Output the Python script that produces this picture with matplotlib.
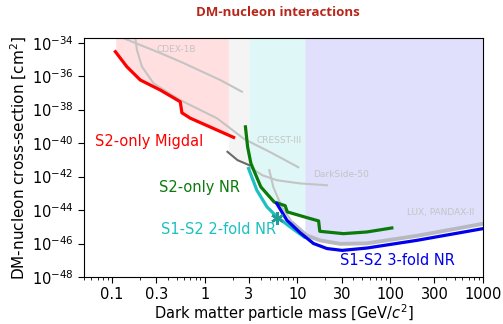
import numpy as np
import matplotlib
matplotlib.use("Agg")
import matplotlib.pyplot as plt
from matplotlib.ticker import LogLocator, FixedLocator, NullFormatter

# Projected limits (mass in GeV/c^2, log10 of cross-section in cm^2)
migdal_mass = [0.109, 0.145, 0.202, 0.332, 0.545, 0.568, 0.698, 2.05]
migdal_logs = [-34.54, -35.44, -36.23, -36.83, -37.53, -38.19, -38.51, -39.66]

s2_nr_mass = [2.75, 2.90, 3.15, 4.03, 5.61, 7.37, 7.76, 12.6, 16.9, 17.4, 31.3, 56.0, 104.0]
s2_nr_logs = [-39.03, -40.22, -41.22, -42.62, -43.52, -43.74, -44.11, -44.45, -44.65,
              -45.27, -45.41, -45.31, -45.07]

twofold_mass = [2.97, 3.65, 4.69, 6.01, 8.36, 11.8]
twofold_logs = [-41.52, -42.82, -43.81, -44.41, -45.01, -45.61]

threefold_mass = [5.98, 7.70, 10.7, 14.9, 20.8, 30.3, 56.0, 194.0, 1000.0]
threefold_logs = [-43.61, -44.61, -45.36, -46.00, -46.30, -46.41, -46.27, -45.81, -45.11]

# Benchmark point on the 2-fold curve
bench_mass = [6.0]
bench_logs = [-44.45]

# Existing experimental limits
cdex_a_mass = [0.134, 0.332, 0.587, 1.47, 2.52]
cdex_a_logs = [-33.74, -34.62, -35.21, -36.23, -36.93]

cdex_b_mass = [0.179, 0.186, 0.211, 0.281, 0.545, 1.36, 2.67, 5.08, 10.2]
cdex_b_logs = [-33.74, -34.44, -35.44, -36.43, -37.43, -38.52, -39.76, -40.54, -41.44]

cresst_mass = [1.76, 2.26, 3.02]
cresst_logs = [-40.52, -41.02, -41.32]

darkside_mass = [3.09, 4.17, 6.0, 10.7, 20.8]
darkside_logs = [-41.44, -41.92, -42.22, -42.41, -42.52]

lux_mass = [4.97, 5.49, 6.77, 9.0, 12.5, 17.4, 28.8, 56.0, 194.0, 1000.0]
lux_logs = [-41.62, -42.62, -43.81, -44.81, -45.51, -45.81, -46.02, -45.99, -45.54, -44.82]

# Mass bands of the excluded region and the curve each one sits on
band_edges = [0.11, 1.8, 3.0, 12.0, 1000.0]
band_colors = ["#ffdfdf", "#f4f4f4", "#e0f7f7", "#e0e0fc"]

xticks = [0.1, 0.3, 1, 3, 10, 30, 100, 300, 1000]
xtick_labels = ["0.1", "0.3", "1", "3", "10", "30", "100", "300", "1000"]
yticks = [1e-48, 1e-46, 1e-44, 1e-42, 1e-40, 1e-38, 1e-36, 1e-34]

YTOP = 1.9e-34


def fill_band(ax, m_lo, m_hi, mass, logs, color):
    """Shade everything above a limit curve between two masses."""
    grid = np.logspace(np.log10(m_lo), np.log10(m_hi), 200)
    low = np.interp(np.log10(grid), np.log10(mass), logs)
    ax.fill_between(grid, 10.0 ** low, YTOP, color=color, lw=0, zorder=0)


def to_cs(logs):
    return 10.0 ** np.array(logs)


fig = plt.figure(figsize=(5.03, 3.24), dpi=100)
ax = fig.add_axes([84 / 503, 1 - 277 / 324, 399 / 503, 239 / 324])

band_curves = [(migdal_mass, migdal_logs), (cresst_mass, cresst_logs),
               (s2_nr_mass, s2_nr_logs), (lux_mass, lux_logs)]
for i, (mass, logs) in enumerate(band_curves):
    fill_band(ax, band_edges[i], band_edges[i + 1], mass, logs, band_colors[i])

# Existing limits in grey
light = "#c4c4c4"
ax.plot(cdex_a_mass, to_cs(cdex_a_logs), color=light, lw=1.5, zorder=1)
ax.plot(cdex_b_mass, to_cs(cdex_b_logs), color=light, lw=1.5, zorder=1)
ax.plot(darkside_mass, to_cs(darkside_logs), color=light, lw=1.5, zorder=1)
ax.plot(lux_mass, to_cs(lux_logs), color=light, lw=1.5, zorder=1)
# the LUX/PandaX-II floor is drawn heavier above ~9 GeV
ax.plot(lux_mass[3:], to_cs(lux_logs[3:]), color="#b8b8c0", lw=2.8, zorder=1)
ax.plot(cresst_mass, to_cs(cresst_logs), color="#6a6a6a", lw=1.5, zorder=1)

small = dict(color=light, fontsize=6.5, ha="center", va="center")
ax.text(0.49, 10 ** -34.39, "CDEX-1B", **small)
ax.text(6.27, 10 ** -39.86, "CRESST-III", **small)
ax.text(29.8, 10 ** -41.86, "DarkSide-50", **small)
ax.text(354, 10 ** -44.17, "LUX, PANDAX-II", **small)

# Projected sensitivities
ax.plot(migdal_mass, to_cs(migdal_logs), color="#ff0000", lw=2.3, zorder=3)
ax.plot(s2_nr_mass, to_cs(s2_nr_logs), color="#0a7a0a", lw=2.3, zorder=3)
ax.plot(twofold_mass, to_cs(twofold_logs), color="#1cc0c0", lw=2.3, zorder=3)
ax.plot(threefold_mass, to_cs(threefold_logs), color="#0000ee", lw=2.3, zorder=3)
ax.plot(bench_mass, to_cs(bench_logs), ls="none", marker=(6, 2, 0), ms=9, mew=1.8,
        color="#1f9e96", zorder=4)

big = dict(fontsize=10.5, va="center", ha="left")
ax.text(0.065, 10 ** -39.92, "S2-only Migdal", color="#ff0000", **big)
ax.text(0.318, 10 ** -42.65, "S2-only NR", color="#0a7a0a", **big)
ax.text(0.340, 10 ** -45.15, "S1-S2 2-fold NR", color="#1cc0c0", **big)
ax.text(28.9, 10 ** -47.0, "S1-S2 3-fold NR", color="#0000ee", **big)

ax.set_xscale("log")
ax.set_yscale("log")
ax.set_xlim(0.05, 1000)
ax.set_ylim(1e-48, YTOP)

ax.xaxis.set_major_locator(FixedLocator(xticks))
ax.set_xticklabels(xtick_labels)
ax.xaxis.set_minor_locator(LogLocator(base=10, subs=np.arange(2, 10)))
ax.xaxis.set_minor_formatter(NullFormatter())
ax.yaxis.set_major_locator(FixedLocator(yticks))
ax.set_yticklabels([r"$10^{%d}$" % round(np.log10(v)) for v in yticks])
ax.yaxis.set_minor_locator(FixedLocator([]))
ax.tick_params(axis="both", which="major", labelsize=10.5, length=4)
ax.tick_params(axis="x", which="minor", length=2)

ax.set_xlabel(r"Dark matter particle mass [GeV/$c^2$]", fontsize=10.5, labelpad=0)
ax.set_ylabel(r"DM-nucleon cross-section [cm$^2$]", fontsize=11, labelpad=2)

fig.text(277.5 / 503, 1 - 13 / 324, "DM-nucleon interactions", color="#b8261a",
         fontsize=9.5, fontweight="bold", family="Open Sans", ha="center", va="center")

fig.savefig("out.png", dpi=100)
